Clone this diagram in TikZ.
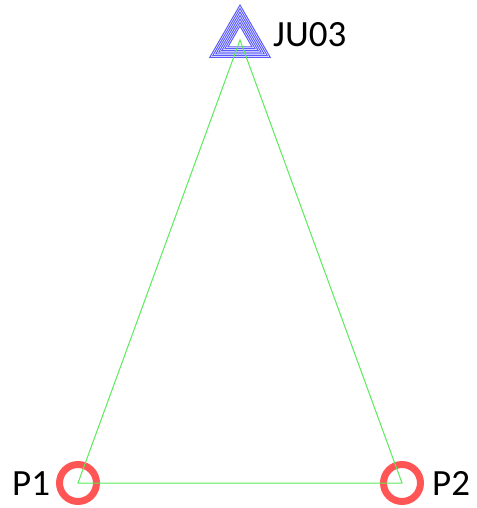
\documentclass[tikz,border=0pt]{standalone}
\usepackage{fontspec}
\setmainfont{Carlito}
\usetikzlibrary{shapes.geometric}
\definecolor{edgegreen}{RGB}{90,235,90}
\definecolor{ringred}{RGB}{255,85,85}
\definecolor{triblue}{RGB}{90,90,255}
\tikzset{
  ring/.style={circle, draw=ringred, line width=7pt, minimum size=37pt, inner sep=0pt},
  tri/.style={regular polygon, regular polygon sides=3, draw=triblue, line width=1pt, inner sep=0pt, minimum size=#1},
  lbl/.style={font=\fontsize{37}{40}\selectfont, inner sep=0pt, anchor=base west},
  edge/.style={draw=edgegreen, line width=1pt}
}
\begin{document}
\begin{tikzpicture}[x=1pt,y=-1pt]
\useasboundingbox (0,0) rectangle (476,508);
\coordinate (ju) at (240,40);
\coordinate (p1) at (78,483);
\coordinate (p2) at (402,483);
\foreach \r [count=\i] in {70,63,56,49,42,35,28} {
  \node[tri=\r pt] (t\i) at (ju) {};
}
\node[ring] (c1) at (p1) {};
\node[ring] (c2) at (p2) {};
\draw[edge] (ju) -- (p1) -- (p2) -- cycle;
\node[lbl] (lju) at (273,47) {JU03};
\node[lbl] (lp1) at (12,495) {P1};
\node[lbl] (lp2) at (432,495) {P2};
\end{tikzpicture}
\end{document}
